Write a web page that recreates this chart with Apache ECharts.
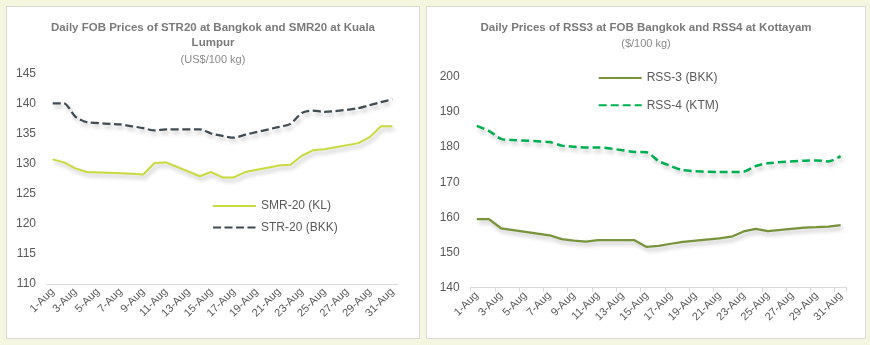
<!DOCTYPE html>
<html>
<head>
<meta charset="utf-8">
<script src="https://cdn.jsdelivr.net/npm/echarts@6/dist/echarts.min.js"></script>
<style>
  html, body { margin: 0; padding: 0; background: #f4f6df; }
  #chart { width: 870px; height: 345px; }
</style>
</head>
<body>
<div id="chart"></div>
<script>
// Calendar days of August (weekends have no quotes: null, lines bridge them)
const days = ['1-Aug','2-Aug','3-Aug','4-Aug','5-Aug','6-Aug','7-Aug','8-Aug','9-Aug','10-Aug',
  '11-Aug','12-Aug','13-Aug','14-Aug','15-Aug','16-Aug','17-Aug','18-Aug','19-Aug','20-Aug',
  '21-Aug','22-Aug','23-Aug','24-Aug','25-Aug','26-Aug','27-Aug','28-Aug','29-Aug','30-Aug','31-Aug'];

// US$/100 kg
const smr20KL = [130.7, 130.2, 129.2, 128.6, null, null, 128.4, 128.3, 128.2, 130.1,
  130.2, null, null, 127.9, 128.6, 127.7, 127.7, 128.6, null, null,
  129.7, 129.8, 131.3, 132.2, 132.4, null, null, 133.4, 134.4, 136.2, 136.2];
const str20BKK = [140.0, 140.0, 137.8, 136.9, null, null, 136.5, 136.2, 135.9, 135.5,
  135.7, null, null, 135.7, 135.0, 134.6, 134.3, 134.8, null, null,
  136.1, 136.6, 138.4, 138.8, 138.6, null, null, 139.2, 139.7, 140.2, 140.7];

// $/100 kg
const rss3BKK = [159.5, 159.5, 156.9, 156.4, null, null, 154.9, 153.8, 153.4, 153.1,
  153.5, null, null, 153.5, 151.6, 151.9, 152.5, 153.0, null, null,
  154.0, 154.5, 156.0, 156.7, 156.1, null, null, 157.1, 157.2, 157.4, 157.8];
const rss4KTM = [186.0, 184.6, 182.3, 182.0, null, null, 181.4, 180.4, 180.1, 179.9,
  179.9, null, null, 178.6, 178.5, 176.0, 174.6, 173.4, null, null,
  172.9, 172.9, 173.0, 174.6, 175.4, null, null, 176.1, 176.2, 175.9, 177.4];

const leftTitle = ['Daily FOB Prices of STR20 at Bangkok and SMR20 at Kuala', 'Lumpur'];
const leftUnit = '(US$/100 kg)';
const rightTitle = 'Daily Prices of RSS3 at FOB Bangkok and RSS4 at Kottayam';
const rightUnit = '($/100 kg)';

const FONT = '"Liberation Sans", Arial, sans-serif';
const labelColor = '#595959';
const axisGray = '#d9d9d9';

const shadow = { shadowColor: 'rgba(0,0,0,0.28)', shadowBlur: 4, shadowOffsetX: 2, shadowOffsetY: 3 };

function xAxis(gridIndex, ticks) {
  return {
    type: 'category', gridIndex, data: days, boundaryGap: true,
    axisLine: { lineStyle: { color: axisGray, width: 1 } },
    axisTick: { show: ticks, length: 4, interval: 1, lineStyle: { color: axisGray } },
    axisLabel: { interval: 1, rotate: 45, margin: 6, color: labelColor, fontSize: 11, fontFamily: FONT }
  };
}
function yAxis(gridIndex, min, max, interval) {
  return {
    type: 'value', gridIndex, min, max, interval,
    axisLine: { show: false }, axisTick: { show: false }, splitLine: { show: false },
    axisLabel: { margin: 11, color: labelColor, fontSize: 12, fontFamily: FONT }
  };
}
function titleText(x, y, text, bold, size) {
  return {
    type: 'text', x, y, z: 5,
    style: {
      text, textAlign: 'center', textVerticalAlign: 'middle',
      fill: bold ? '#7a7a7a' : '#8a8a8a',
      font: (bold ? 'bold ' : '') + size + 'px ' + FONT
    }
  };
}
function legend(names, left, top, gap) {
  return {
    data: names, orient: 'vertical', left, top, padding: 0,
    itemWidth: 43, itemHeight: 14, itemGap: gap,
    itemStyle: { opacity: 0 },
    textStyle: { color: labelColor, fontSize: 12, fontFamily: FONT }
  };
}

const chart = echarts.init(document.getElementById('chart'));
chart.setOption({
  animation: false,
  backgroundColor: '#f4f6df',
  graphic: [
    { type: 'rect', z: -10, shape: { x: 6.5, y: 6.5, width: 413, height: 332 },
      style: { fill: '#ffffff', stroke: '#d9d9d9', lineWidth: 1 } },
    { type: 'rect', z: -10, shape: { x: 426.5, y: 6.5, width: 439, height: 332 },
      style: { fill: '#ffffff', stroke: '#d9d9d9', lineWidth: 1 } },
    titleText(213, 28, leftTitle[0], true, 11.5),
    titleText(213, 43, leftTitle[1], true, 11.5),
    titleText(213, 60, leftUnit, false, 11),
    titleText(646, 28, rightTitle, true, 11.5),
    titleText(646, 44, rightUnit, false, 11)
  ],
  grid: [
    { left: 47, top: 73.3, width: 351, height: 210.7 },
    { left: 470.7, top: 76.7, width: 376, height: 211 }
  ],
  xAxis: [xAxis(0, false), xAxis(1, true)],
  yAxis: [yAxis(0, 110, 145, 5), yAxis(1, 140, 200, 10)],
  legend: [
    legend(['SMR-20 (KL)', 'STR-20 (BKK)'], 212, 200, 9.4),
    legend(['RSS-3 (BKK)', 'RSS-4 (KTM)'], 597.7, 71.9, 15.4)
  ],
  series: [
    { name: 'SMR-20 (KL)', type: 'line', xAxisIndex: 0, yAxisIndex: 0, data: smr20KL,
      connectNulls: true, symbol: 'none', color: '#c9da3c',
      lineStyle: Object.assign({ color: '#c9da3c', width: 2 }, shadow) },
    { name: 'STR-20 (BKK)', type: 'line', xAxisIndex: 0, yAxisIndex: 0, data: str20BKK,
      connectNulls: true, symbol: 'none', smooth: 0.25, color: '#3f4c53',
      lineStyle: Object.assign({ color: '#3f4c53', width: 2.25, type: [8, 3.5] }, shadow) },
    { name: 'RSS-3 (BKK)', type: 'line', xAxisIndex: 1, yAxisIndex: 1, data: rss3BKK,
      connectNulls: true, symbol: 'none', color: '#77933c',
      lineStyle: Object.assign({ color: '#77933c', width: 2.25 }, shadow) },
    { name: 'RSS-4 (KTM)', type: 'line', xAxisIndex: 1, yAxisIndex: 1, data: rss4KTM,
      connectNulls: true, symbol: 'none', smooth: 0.25, color: '#00b050',
      lineStyle: Object.assign({ color: '#00b050', width: 2.5, type: [8, 4] }, shadow) }
  ]
});
</script>
</body>
</html>
